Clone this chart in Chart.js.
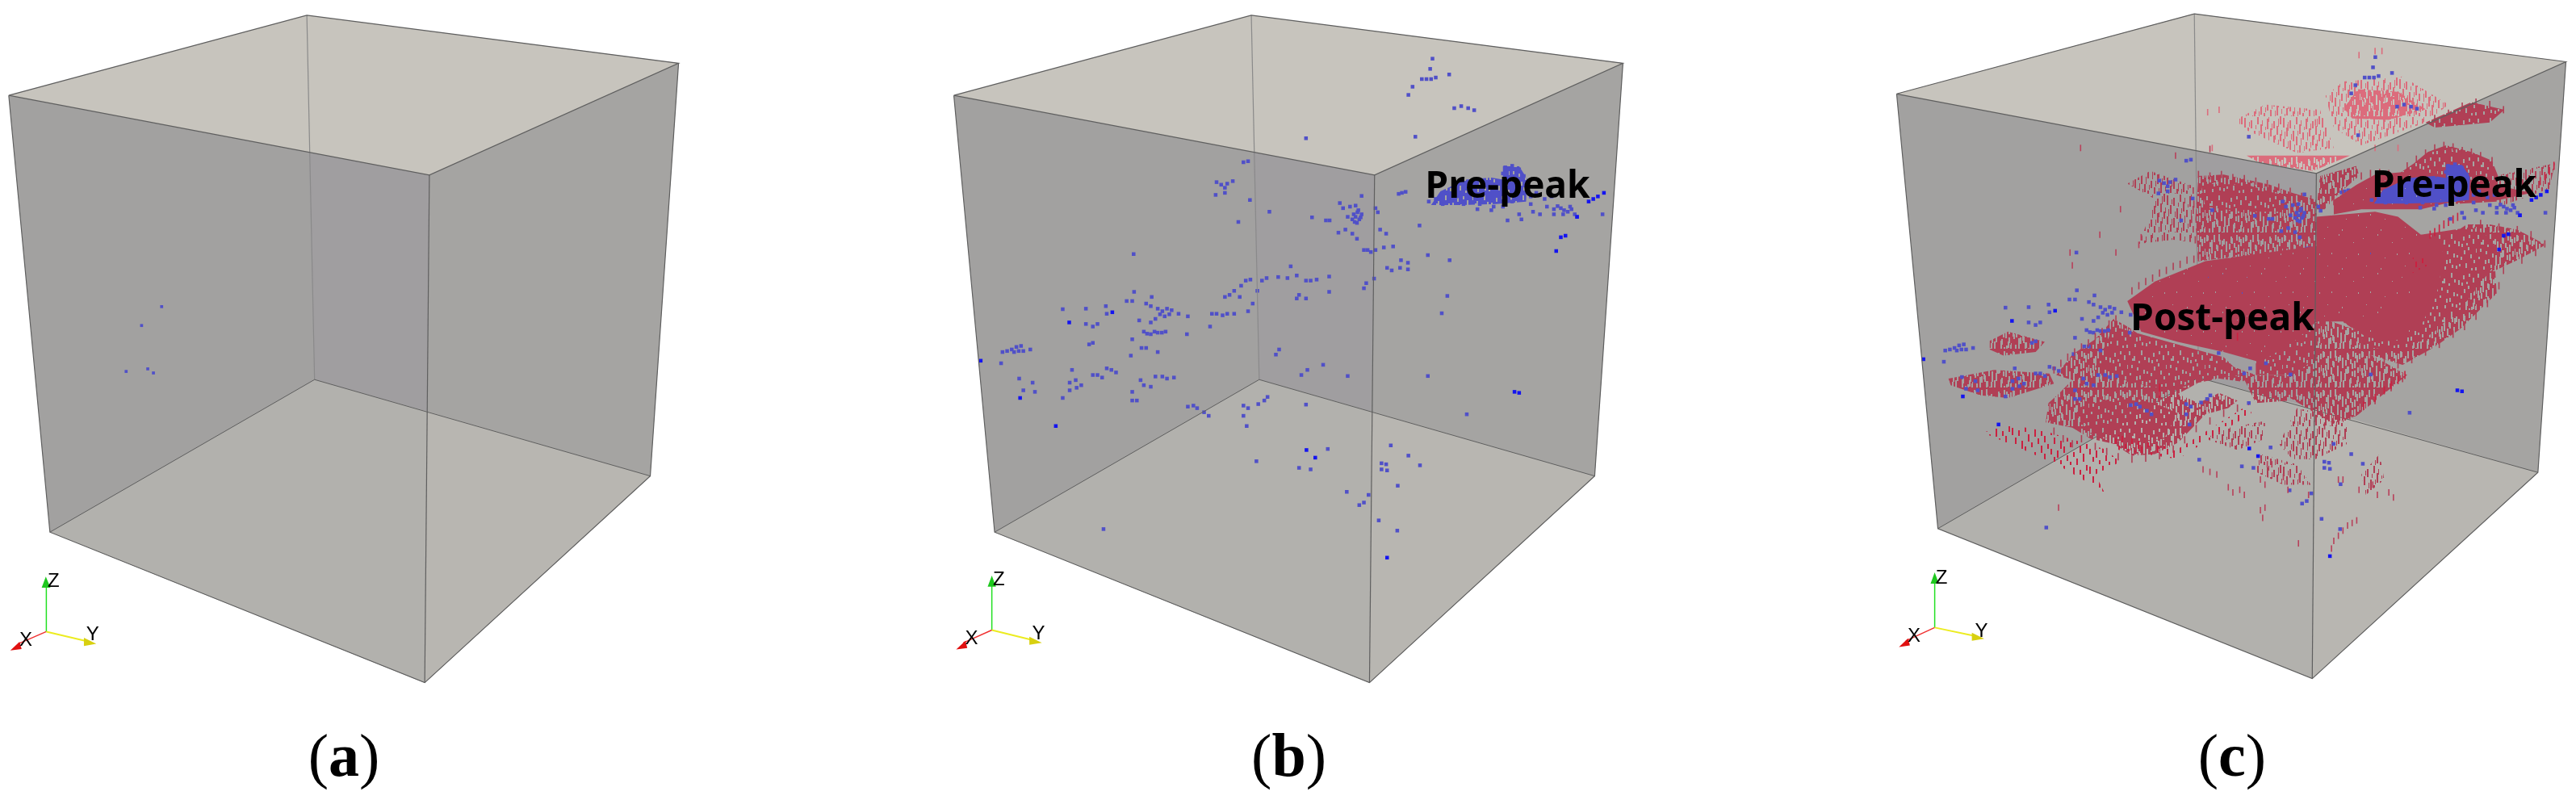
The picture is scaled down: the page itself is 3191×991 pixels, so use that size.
<!DOCTYPE html>
<html>
<head>
<meta charset="utf-8">
<title>Cracking events</title>
<script src="https://cdn.jsdelivr.net/npm/chart.js@4"></script>
<style>
  html, body { margin: 0; background: #fff; overflow: hidden; }
  canvas { position: absolute; top: 0; }
</style>
</head>
<body>
<canvas id="panelA" width="1000" height="991" style="left:0"></canvas>
<canvas id="panelB" width="900" height="991" style="left:1150px"></canvas>
<canvas id="panelC" width="891" height="991" style="left:2300px"></canvas>
<script>
// Every panel is plotted on a hidden 0..1568 x 0..1568 grid.
// cube corners: top back, top left, top right, top front, bottom back, bottom left, bottom right, bottom front
const cubeA = [[596,30],[17,187],[1318,124],[834,343],[611,744],[97,1043],[1263,933],[825,1338]];
const cubeB = [[697,30],[55,187],[1499,124],[963,343],[714,744],[143,1043],[1438,933],[952,1338]];
const cubeC = [[736,27],[87,184],[1546,121],[1002,340],[745,740],[177,1036],[1485,926],[993,1330]];
const coreA = [[600,297],[834,343],[829,806],[611,744]];
const coreB = [[701,297],[963,343],[955,806],[714,744]];
const coreC = [[741,295],[1002,340],[997,800],[745,740]];

// axis triad: origin, z tip, x tip, y tip
const triadA = [[90,1238],[90,1150],[35,1262],[165,1256]];
const triadB = [[137,1235],[137,1148],[75,1260],[222,1254]];
const triadC = [[170,1230],[170,1142],[107,1256],[255,1246]];
const headsA = [[[89,1130],[81,1152],[98,1152]],[[20,1275],[38,1258],[42,1272]],[[187,1262],[163,1250],[163,1266]]];
const headsB = [[[137,1128],[128,1150],[146,1150]],[[60,1273],[80,1256],[84,1270]],[[245,1260],[218,1248],[218,1264]]];
const headsC = [[[170,1122],[161,1144],[179,1144]],[[92,1268],[112,1251],[116,1265]],[[278,1252],[251,1240],[251,1256]]];

// panel (a) events
const eventsA = [[314,601],[275,638],[245,728],[287,723],[298,731]];

// panel (b) pre-peak events, the same ones show up again in panel (c)
const preTop = [[1088,115],[1083,135],[1065,155],[1075,155],[1085,155],[1095,152],[1124,146],[1045,170],[1036,186],[1135,212],[1150,208],[1165,212],[1178,216],[1051,268],[815,271]];
const preUpper = [[680,318],[690,316],[622,357],[632,362],[645,360],[657,355],[640,368],[620,382],[640,378],[694,392],[736,415],[669,435],[828,426],[858,432],[866,432],[888,398],[895,408],[910,405],[922,403],[935,384],[928,412],[922,425],[915,430],[930,430],[935,420],[925,437],[905,425],[918,420],[926,416],[933,426],[920,435],[965,408],[970,416],[975,450],[988,458],[885,456],[900,450],[915,458],[925,468],[940,490],[948,490],[955,494],[965,490],[983,485],[1003,483],[1060,442],[1022,378],[1015,380],[1030,376]];
const prePeakBand = [[1080,395],[1095,390],[1110,400],[1125,395],[1140,385],[1155,400],[1170,390],[1185,410],[1190,400],[1215,412],[1220,405],[1240,405],[1250,432],[1260,395],[1280,430],[1275,420],[1300,400],[1305,415],[1320,420],[1335,405],[1350,410],[1358,404],[1365,408],[1372,412],[1380,415],[1388,410],[1395,420],[1400,425],[1455,420],[1245,328],[1260,325],[1275,332],[1285,345],[1240,340],[1350,420],[1370,420],[1385,405],[1300,385],[1312,378],[1330,390],[1345,385]];
const preMiddle = [[1000,530],[1020,510],[1035,515],[1035,528],[1018,525],[990,525],[945,555],[940,565],[962,546],[1078,500],[1125,510],[1120,580],[1108,614],[865,542],[865,572],[838,548],[825,550],[815,550],[795,540],[782,522],[775,545],[755,543],[730,545],[720,550],[710,570],[800,578],[795,585],[815,585],[685,550],[695,548],[675,560],[660,570],[650,578],[640,582],[700,595],[690,610],[672,582]];
const preLeft = [[612,615],[622,615],[635,618],[645,615],[660,615],[608,640],[560,620],[558,655],[540,615],[525,608],[515,605],[505,610],[495,605],[480,600],[470,595],[440,590],[428,590],[482,582],[444,572],[443,498],[510,620],[500,616],[520,616],[490,625],[480,632],[465,650],[472,654],[480,655],[488,650],[495,652],[504,652],[512,650],[455,628],[440,665],[460,682],[470,682],[495,690],[437,697],[347,675],[355,672],[340,635],[355,640],[365,635],[383,600],[385,615],[340,605],[290,606],[160,690],[170,688],[180,685],[185,690],[190,680],[195,688],[200,678],[205,688],[220,685],[157,712],[196,742],[225,750],[230,768],[205,765],[310,725],[318,745],[305,750],[320,760],[330,755],[305,765],[290,780],[355,735],[365,735],[375,740],[385,722],[395,725],[405,730],[440,785],[450,785],[440,768],[458,745],[465,755],[480,758],[490,738],[505,738],[515,742],[530,740]];
const preLower = [[560,797],[572,795],[580,800],[595,808],[605,815],[680,795],[690,800],[680,815],[687,835],[712,792],[725,785],[732,778],[815,793],[757,685],[750,695],[818,725],[805,735],[852,715],[905,737],[1078,737],[1162,812],[862,880],[708,904],[800,917],[825,920],[903,964],[930,990],[940,985],[950,970],[978,908],[988,910],[978,920],[990,922],[998,873],[1036,893],[1061,912],[1013,952],[972,1020],[1012,1040],[378,1037]];
const preBright = [[113,707],[304,632],[397,612],[198,780],[275,835],[1265,768],[1275,770],[816,882],[835,897],[990,1093],[1425,395],[1435,390],[1445,385],[1458,378],[1365,465],[1375,462],[1355,492],[1400,425]];
const prePatch = [[1085,402],[1105,375],[1160,352],[1215,348],[1240,352],[1240,326],[1275,326],[1292,350],[1290,395],[1225,400],[1150,402]];

// panel (c) post-peak clouds, outlines of what is seen as nearly solid, patchy, open or thin
const solidClouds = [
  [[590,590],[650,552],[760,512],[880,497],[1002,482],[1002,425],[1130,415],[1180,425],[1230,460],[1280,470],[1270,560],[1230,640],[1170,670],[1110,660],[1060,630],[1002,630],[960,665],[880,710],[800,690],[700,670],[620,650]],
  [[1090,362],[1130,342],[1220,335],[1300,345],[1380,360],[1470,378],[1400,392],[1300,395],[1230,410],[1180,410],[1100,410],[1040,420],[1040,392]]
];
const patchyClouds = [
  [[1230,460],[1340,445],[1390,470],[1390,520],[1330,590],[1260,650],[1190,690],[1110,680],[1100,660],[1180,600]],
  [[480,800],[560,780],[650,790],[700,810],[670,860],[590,870],[510,850]],
  [[560,640],[640,660],[800,700],[840,735],[760,745],[690,765],[600,750],[520,720]],
  [[870,700],[960,660],[1005,630],[1005,700],[950,735],[870,735]],
  [[1175,345],[1215,320],[1245,298],[1285,285],[1340,298],[1385,315],[1398,345],[1395,395],[1300,400],[1200,370]],
  [[750,360],[850,362],[935,385],[930,415],[840,415],[760,405]],
  [[1240,240],[1340,200],[1412,215],[1380,240],[1260,250]]
];
const openClouds = [
  [[412,828],[418,790],[440,772],[470,745],[435,735],[470,695],[520,665],[560,625],[590,640],[640,670],[720,690],[800,712],[870,735],[840,748],[790,742],[745,750],[700,772],[745,790],[790,770],[830,785],[810,800],[760,812],[730,840],[700,868],[650,890],[600,893],[560,870],[510,860],[470,838]],
  [[1002,625],[1050,625],[1100,655],[1100,690],[1190,715],[1260,680],[1315,645],[1395,575],[1392,530],[1440,510],[1502,480],[1440,450],[1380,440],[1330,440],[1280,470],[1290,560],[1120,620]],
  [[1000,620],[1100,650],[1100,690],[1000,690]],
  [[1000,690],[1085,680],[1130,700],[1200,735],[1090,815],[1040,830],[1000,810],[945,780],[950,730]],
  [[745,345],[800,342],[850,352],[900,362],[950,378],[1002,392],[1002,490],[880,498],[745,512],[738,430]],
  [[840,735],[950,735],[945,785],[870,790]],
  [[200,742],[300,725],[420,732],[430,752],[330,780],[270,775],[205,755]],
  [[1010,345],[1090,325],[1095,345],[1050,380],[1020,410],[1002,410]],
  [[290,668],[330,650],[410,670],[390,690],[320,697],[290,685]]
];
const thinClouds = [
  [[590,360],[640,335],[735,365],[735,475],[690,470],[615,478],[640,420],[650,390]],
  [[800,840],[890,825],[890,860],[830,882],[760,860]],
  [[960,800],[1070,820],[1070,870],[1000,900],[950,900],[920,870]],
  [[1100,930],[1140,890],[1150,940],[1110,970]],
  [[1390,345],[1522,320],[1510,370],[1400,405]],
  [[880,890],[960,910],[990,950],[930,950],[870,925]]
];
const brightBands = [
  [[275,848],[330,832],[410,845],[540,880],[575,905],[520,930],[540,965],[440,912],[360,880]],
  [[1212,505],[1245,500],[1245,520],[1212,535]],
  [[560,850],[700,880],[860,790],[860,810],[700,900],[560,880]]
];
const pinkOpen = [[[1062,212],[1092,175],[1180,180],[1240,214],[1160,235],[1080,232]],[[850,305],[1000,305],[1075,305],[995,335],[880,320]]];
const pinkThin = [
  [[1022,188],[1060,160],[1190,150],[1290,205],[1240,240],[1100,285],[1040,250]],
  [[825,235],[890,205],[1010,215],[1040,290],[960,300],[850,255]]
];
const postTicks = [[488,290],[695,305],[770,292],[575,410],[530,460],[465,495],[470,520],[565,495],[620,465],[615,480],[820,965],[835,960],[845,970],[810,955],[770,925],[785,930],[755,920],[880,1000],[885,1015],[890,995],[880,940],[890,950],[930,935],[945,930],[965,935],[940,960],[1135,970],[1160,965],[1170,975],[1095,960],[1125,950],[1050,1050],[1060,1040],[1070,1030],[1080,1025],[1090,1020],[1040,1060],[1035,1075],[1050,940],[1060,940],[440,995],[963,1065],[905,910],[895,910],[985,970]];
const postFringe = [[600,570],[615,560],[630,552],[645,545],[660,535],[675,530],[690,522],[705,518],[720,510],[735,508],[745,505],[430,725],[445,712],[460,700],[475,690],[490,680],[505,672],[520,660],[535,650],[550,635],[565,625],[430,845],[450,860],[470,870],[490,860],[520,875],[545,885],[570,895],[600,900],[630,898],[660,893],[690,880],[715,862],[740,840],[770,825],[800,810],[830,800],[1000,820],[1020,835],[1045,840],[1075,815],[1100,800],[1130,785],[1165,760],[1190,742],[1400,560],[1410,530],[1450,510],[1480,495],[1500,478],[1470,460],[1440,450],[1400,445],[1360,438],[1120,700],[1150,708],[1180,715],[1210,705],[1240,690],[1270,675],[1300,655],[1325,640],[1350,620],[1375,595],[1200,325],[1220,312],[1240,300],[1260,290],[1280,285],[1300,288],[1320,295],[1340,298],[1360,305],[1385,315],[1100,345],[1120,340],[1140,338],[1160,340],[1060,380],[1040,395],[745,342],[770,345],[795,342],[820,348],[845,350],[870,355],[895,360],[920,367],[945,375],[970,385],[990,390],[735,400],[730,430],[738,470],[745,500],[1260,232],[1290,222],[1320,208],[1350,200],[1380,205],[1410,215]];
const postBright = [[1250,460],[1260,455],[1270,448],[1280,440],[1290,435],[1300,430],[1310,425],[1490,355],[1500,345],[1510,335],[1520,325],[660,760],[660,772],[830,660],[1195,735],[1180,745],[1165,755],[1150,765],[1130,780],[1105,795]];
const pinkTicks = [[1130,100],[1145,100],[1095,108],[790,215],[765,220],[775,290],[940,250],[1000,240],[1180,290],[1130,290]];

const CUBE_EDGE = "#5f5f5f";
const BACK_EDGE = "#8a8a8a";
const BLUE = "#5050c8";
const BRIGHT_BLUE = "#1414f0";
const RED = "#b03f55";
const HOT_RED = "#cc2040";
const PINK = "#dc6c7c";

// texture tiles, 48 x 48: [x, y, height] of the small vertical strokes or gaps
const thinStrokes = [[0,2,9],[0,28,7],[4,14,8],[4,38,6],[8,5,7],[8,30,9],[12,18,10],[12,42,5],[16,1,6],[16,25,8],[20,10,9],[20,36,7],[24,20,6],[24,44,4],[28,3,10],[28,32,6],[32,15,7],[32,40,8],[36,6,6],[36,24,9],[40,12,8],[40,34,10],[44,0,7],[44,22,6]];
const patchyGaps = [[1,3,5],[4,20,4],[7,9,6],[10,34,5],[13,15,3],[16,2,6],[19,26,5],[22,41,4],[25,11,6],[28,30,4],[31,5,5],[34,38,6],[37,18,4],[40,27,5],[43,8,6],[46,43,4],[2,30,3],[8,42,4],[14,33,5],[20,10,4],[26,39,3],[32,22,5],[38,3,4],[44,34,4],[5,12,3],[17,40,4],[29,14,4],[41,44,3],[11,23,4],[23,28,3],[35,13,3],[47,20,5]];
const solidGaps = [[3,7,1],[21,2,2],[39,12,1],[12,25,2],[30,31,1],[45,26,2],[7,41,1],[25,44,2]];

function tile(color, mode) {
  const c = document.createElement("canvas");
  c.width = 48; c.height = 48;
  const g = c.getContext("2d");
  g.fillStyle = color;
  if (mode === "thin") {
    thinStrokes.forEach(([x, y, h]) => g.fillRect(x, y, 2, h));
  } else if (mode === "loose") {
    // same strokes doubled up, second set pushed down and over
    thinStrokes.forEach(([x, y, h]) => {
      g.fillRect(x, y, 2, h + 3);
      g.fillRect((x + 2) % 48, (y + 17) % 48, 1, h);
    });
  } else if (mode === "open") {
    // patchy gaps made wider and used twice, second set moved across the tile
    g.fillRect(0, 0, 48, 48);
    patchyGaps.forEach(([x, y, h]) => {
      g.clearRect(x, y, 2, h + 3);
      g.clearRect((x + 24) % 48, (y + 13) % 48, 2, h + 3);
    });
  } else {
    g.fillRect(0, 0, 48, 48);
    const w = mode === "patchy" ? 2 : 1;
    (mode === "patchy" ? patchyGaps : solidGaps).forEach(([x, y, h]) => g.clearRect(x, y, w, h));
  }
  return g.createPattern(c, "repeat");
}

const toPoints = arr => arr.map(([x, y]) => ({ x, y }));

function shape(pts, color, extra) {
  return Object.assign({
    data: toPoints(pts.concat([pts[0]])),
    showLine: true, fill: "shape", backgroundColor: color,
    borderColor: "transparent", borderWidth: 0, pointRadius: 0, tension: 0
  }, extra);
}
function line(pts, color, width, extra) {
  return Object.assign({
    data: toPoints(pts), showLine: true, fill: false,
    borderColor: color, borderWidth: width, pointRadius: 0, tension: 0
  }, extra);
}
function squares(pts, color, radius, extra) {
  return Object.assign({
    data: toPoints(pts), showLine: false, pointStyle: "rect", pointRadius: radius,
    backgroundColor: color, borderColor: color, borderWidth: 0
  }, extra);
}
function ticks(pts, color, radius, extra) {
  return Object.assign({
    data: toPoints(pts), showLine: false, pointStyle: "line", pointRotation: 90,
    pointRadius: radius, borderColor: color, borderWidth: 1.6, backgroundColor: color
  }, extra);
}

function cubeFaces(cube, core) {
  const [tb, tl, tr, tf, bb, bl, br, bf] = cube;
  return [
    shape([tl, tb, tr, br, bf, bl], "#a2a1a0"),
    shape([tf, tr, br, bf], "#a5a4a2"),
    shape(core, "#a09ea0"),
    shape([tl, tb, tr, tf], "#c7c4bd"),
    shape([bb, core[2], bf, bl], "#b2b1ad"),
    shape([core[2], br, bf], "#b8b6b1")
  ];
}
function cubeEdges(cube) {
  const [tb, tl, tr, tf, bb, bl, br, bf] = cube;
  return [
    line([tb, bb], BACK_EDGE, 1.2),
    line([bl, bb, br], CUBE_EDGE, 1),
    line([tl, tb, tr, tf, tl], CUBE_EDGE, 1.2),
    line([tl, bl, bf, br, tr], CUBE_EDGE, 1.2),
    line([tf, bf], CUBE_EDGE, 1.2)
  ];
}
function triad(t, heads) {
  const [o, z, x, y] = t;
  return [
    line([o, z], "#22e022", 1.5), line([o, x], "#f03030", 1.5), line([o, y], "#ecec20", 2),
    shape(heads[0], "#1ec81e"), shape(heads[1], "#e01010"), shape(heads[2], "#d8d010")
  ];
}

const textPlugin = {
  id: "panelText",
  afterDraw(chart, args, opts) {
    const ctx = chart.ctx;
    ctx.save();
    ctx.textBaseline = "middle";
    ctx.fillStyle = "#000";
    (opts.items || []).forEach(t => {
      const px = chart.scales.x.getPixelForValue(t.x), py = chart.scales.y.getPixelForValue(t.y);
      if (t.parts) {
        // panel letter: plain brackets round a bold letter
        const fonts = ["76px 'Liberation Serif'", "bold 76px 'Liberation Serif'", "76px 'Liberation Serif'"];
        let w = 0;
        t.parts.forEach((p, i) => { ctx.font = fonts[i]; w += ctx.measureText(p).width; });
        let cx = px - w / 2;
        ctx.textAlign = "left";
        t.parts.forEach((p, i) => { ctx.font = fonts[i]; ctx.fillText(p, cx, py); cx += ctx.measureText(p).width; });
      } else {
        ctx.font = t.font;
        ctx.textAlign = "center";
        ctx.fillText(t.text, px, py);
      }
    });
    ctx.restore();
  }
};

function axisLetters(z, x, y) {
  const font = "24px 'Liberation Sans'";
  return [{ text: "Z", x: z[0], y: z[1], font }, { text: "X", x: x[0], y: x[1], font }, { text: "Y", x: y[0], y: y[1], font }];
}

const hidden = (min, max, extra) => Object.assign({ type: "linear", min, max, display: false }, extra);

function panel(id, layers, items, scales) {
  new Chart(document.getElementById(id), {
    type: "scatter",
    // first dataset ends up on top, so flip the bottom-to-top list
    data: { datasets: layers.slice().reverse() },
    plugins: [textPlugin],
    options: {
      responsive: false, animation: false, events: [],
      layout: { padding: 0, autoPadding: false },
      scales: Object.assign({ x: hidden(0, 1568), y: hidden(0, 1568, { reverse: true }) }, scales),
      plugins: { legend: { display: false }, tooltip: { enabled: false }, panelText: { items } }
    }
  });
}

const LABEL_FONT = "700 46px 'Open Sans'";

panel("panelA",
  [...cubeFaces(cubeA, coreA), squares(eventsA, BLUE, 2.6), ...cubeEdges(cubeA), ...triad(triadA, headsA)],
  [{ parts: ["(", "a", ")"], x: 668, y: 1490 }, ...axisLetters([104,1140],[50,1256],[180,1245])]);

const preAll = [...preTop, ...preUpper, ...prePeakBand, ...preMiddle, ...preLeft, ...preLower];
const preBehind = [...preUpper, ...preMiddle, ...preLeft, ...preLower];
const preInFront = [...preTop, ...prePeakBand];

panel("panelB",
  [...cubeFaces(cubeB, coreB), shape(prePatch, tile(BLUE, "patchy")), squares(preAll, BLUE, 3.2), squares(preBright, BRIGHT_BLUE, 3.2), ...cubeEdges(cubeB), ...triad(triadB, headsB)],
  [{ text: "Pre-peak", x: 1250, y: 367, font: LABEL_FONT }, { parts: ["(", "b", ")"], x: 778, y: 1490 }, ...axisLetters([152,1137],[93,1252],[238,1243])]);

// panel (c) reuses the blue points of (b), the extra xB/yB scales line them up with this cube
const onB = { xAxisID: "xB", yAxisID: "yB" };
panel("panelC",
  [
    ...cubeFaces(cubeC, coreC),
    ...cubeEdges(cubeC).slice(0, 2),
    ...thinClouds.map(p => shape(p, tile(RED, "loose"))),
    ...openClouds.map(p => shape(p, tile(RED, "open"))),
    ...patchyClouds.map(p => shape(p, tile(RED, "patchy"))),
    squares(preBehind, BLUE, 3.2, onB),
    ...solidClouds.map(p => shape(p, tile(RED, "solid"))),
    ticks(postFringe, RED, 4.5),
    ...brightBands.map(p => shape(p, tile(HOT_RED, "thin"))),
    ...pinkThin.map(p => shape(p, tile(PINK, "loose"))),
    ...pinkOpen.map(p => shape(p, tile(PINK, "open"))),
    ticks(postTicks, "#b8405a", 4),
    ticks(pinkTicks, PINK, 4),
    ticks(postBright, HOT_RED, 5),
    shape(prePatch, tile(BLUE, "solid"), onB),
    squares(preInFront, BLUE, 3.2, onB),
    squares(preBright, BRIGHT_BLUE, 3.2, onB),
    ...cubeEdges(cubeC).slice(2),
    ...triad(triadC, headsC)
  ],
  [{ text: "Pre-peak", x: 1302, y: 365, font: LABEL_FONT }, { text: "Post-peak", x: 797, y: 627, font: LABEL_FONT },
   { parts: ["(", "c", ")"], x: 818, y: 1490 }, ...axisLetters([185,1133],[125,1247],[272,1238])],
  { xB: hidden(-31, 1521, { axis: "x" }), yB: hidden(3, 1571, { axis: "y", reverse: true }) });
</script>
</body>
</html>
